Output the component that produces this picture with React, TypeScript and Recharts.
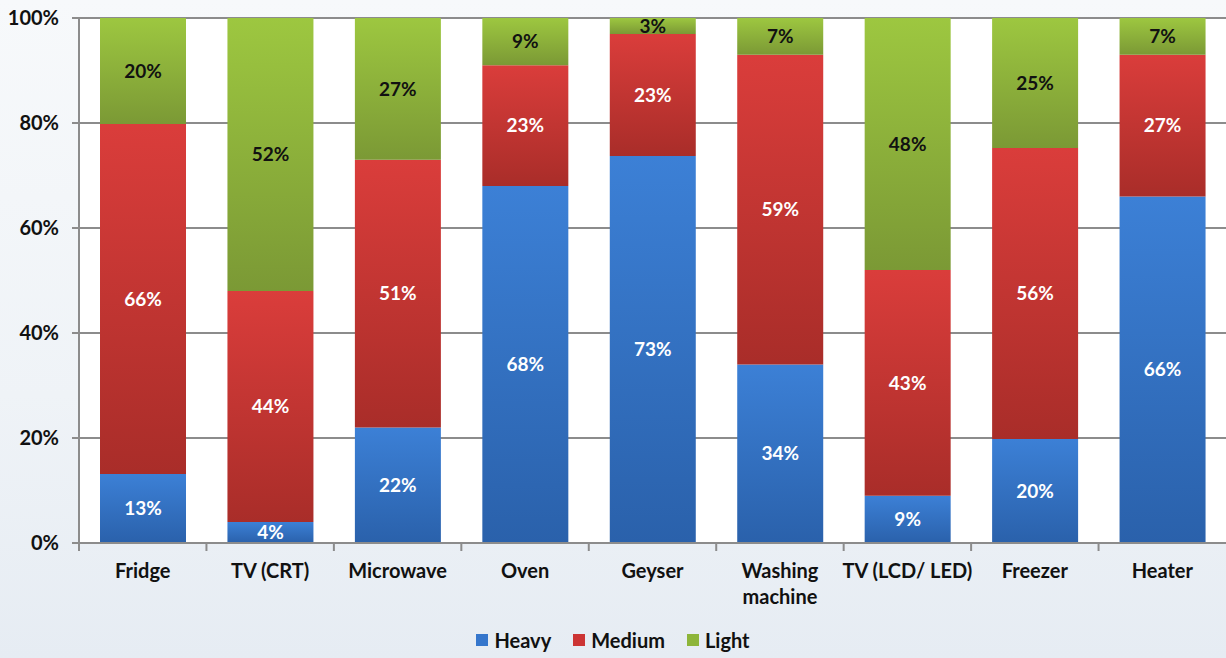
import React from 'react'
import { BarChart, Bar, XAxis, YAxis, CartesianGrid, LabelList, Legend } from 'recharts'

const categories = ['Fridge', 'TV (CRT)', 'Microwave', 'Oven', 'Geyser', 'Washing machine', 'TV (LCD/ LED)', 'Freezer', 'Heater']
const heavy = [13, 4, 22, 68, 73, 34, 9, 20, 66]
const medium = [66, 44, 51, 23, 23, 59, 43, 56, 27]
const light = [20, 52, 27, 9, 3, 7, 48, 25, 7]
const yTicks = [0, 0.2, 0.4, 0.6, 0.8, 1]
const seriesNames = ['Heavy', 'Medium', 'Light']

const WIDTH = 1226
const HEIGHT = 658
const Y_AXIS_W = 79
const BAND = (WIDTH - Y_AXIS_W) / categories.length
const FONT = 'Lato, "Open Sans", sans-serif'
const GRID = '#8c8c8c'

const data = categories.map((name, i) => ({
  name,
  heavy: heavy[i],
  medium: medium[i],
  light: light[i],
}))

// greedy word wrap, about 14 characters per line
const wrap = (s: string) => {
  const lines: string[] = []
  s.split(' ').forEach((w) => {
    const last = lines[lines.length - 1]
    if (last !== undefined && (last + ' ' + w).length <= 14) lines[lines.length - 1] = last + ' ' + w
    else lines.push(w)
  })
  return lines
}

const CategoryTick = ({ x, y, payload }: any) => (
  <g>
    <line x1={x - BAND / 2} x2={x - BAND / 2} y1={y - 8} y2={y} stroke={GRID} strokeWidth={2} />
    <text x={x} y={y + 27} textAnchor="middle" fontFamily={FONT} fontWeight={700} fontSize={20} fill="#111">
      {wrap(String(payload.value)).map((l, i) => (
        <tspan key={i} x={x} dy={i === 0 ? 0 : 26}>
          {l}
        </tspan>
      ))}
    </text>
  </g>
)

const swatch = ['#3576cc', '#cc3434', '#8db53a']

const LegendBox = () => (
  <div style={{ display: 'flex', justifyContent: 'center', fontFamily: FONT, fontWeight: 700, fontSize: 20, color: '#111' }}>
    {seriesNames.map((n, i) => (
      <div key={n} style={{ display: 'flex', alignItems: 'center', marginRight: i < 2 ? 22 : 0 }}>
        <span style={{ width: 12, height: 12, background: swatch[i], marginRight: 6, display: 'inline-block' }} />
        {n}
      </div>
    ))}
  </div>
)

const pct = (v: any) => `${v}%`

export default function App() {
  return (
    <div
      style={{
        position: 'absolute',
        left: 0,
        top: 0,
        width: WIDTH,
        height: HEIGHT,
        background: 'linear-gradient(180deg, #f7f9fb 0%, #eff3f7 60%, #e6ecf3 100%)',
      }}
    >
      <style>{'body{margin:0}'}</style>
      <BarChart
        width={WIDTH}
        height={HEIGHT}
        data={data}
        stackOffset="expand"
        margin={{ top: 18, right: 0, bottom: 0, left: 0 }}
      >
        <defs>
          <linearGradient id="gHeavy" x1="0" y1="0" x2="0" y2="1">
            <stop offset="0%" stopColor="#3c80d6" />
            <stop offset="100%" stopColor="#2a61ab" />
          </linearGradient>
          <linearGradient id="gMedium" x1="0" y1="0" x2="0" y2="1">
            <stop offset="0%" stopColor="#da3d3b" />
            <stop offset="100%" stopColor="#a92d29" />
          </linearGradient>
          <linearGradient id="gLight" x1="0" y1="0" x2="0" y2="1">
            <stop offset="0%" stopColor="#9dc740" />
            <stop offset="100%" stopColor="#7b9935" />
          </linearGradient>
        </defs>
        <CartesianGrid vertical={false} stroke={GRID} strokeWidth={2} fill="#ffffff" />
        <XAxis
          dataKey="name"
          height={115}
          interval={0}
          tickSize={8}
          tickMargin={0}
          tickLine={false}
          axisLine={{ stroke: GRID, strokeWidth: 2 }}
          tick={<CategoryTick />}
        />
        <YAxis
          width={Y_AXIS_W}
          domain={[0, 1]}
          ticks={yTicks}
          tickFormatter={(v: number) => `${Math.round(v * 100)}%`}
          tickSize={7}
          tickMargin={13}
          tickLine={{ stroke: GRID, strokeWidth: 2 }}
          axisLine={{ stroke: GRID, strokeWidth: 2 }}
          tick={{ fontFamily: FONT, fontWeight: 700, fontSize: 20, fill: '#111' }}
        />
        <Legend
          layout="horizontal"
          verticalAlign="middle"
          align="center"
          content={<LegendBox />}
          wrapperStyle={{ top: 628, left: 0, width: WIDTH, height: 28 }}
        />
        <Bar dataKey="heavy" name="Heavy" stackId="a" fill="url(#gHeavy)" barSize={86} isAnimationActive={false}>
          <LabelList dataKey="heavy" position="center" formatter={pct} fill="#ffffff" fontFamily={FONT} fontWeight={700} fontSize={19} />
        </Bar>
        <Bar dataKey="medium" name="Medium" stackId="a" fill="url(#gMedium)" barSize={86} isAnimationActive={false}>
          <LabelList dataKey="medium" position="center" formatter={pct} fill="#ffffff" fontFamily={FONT} fontWeight={700} fontSize={19} />
        </Bar>
        <Bar dataKey="light" name="Light" stackId="a" fill="url(#gLight)" barSize={86} isAnimationActive={false}>
          <LabelList dataKey="light" position="center" formatter={pct} fill="#111111" fontFamily={FONT} fontWeight={700} fontSize={19} />
        </Bar>
      </BarChart>
    </div>
  )
}
